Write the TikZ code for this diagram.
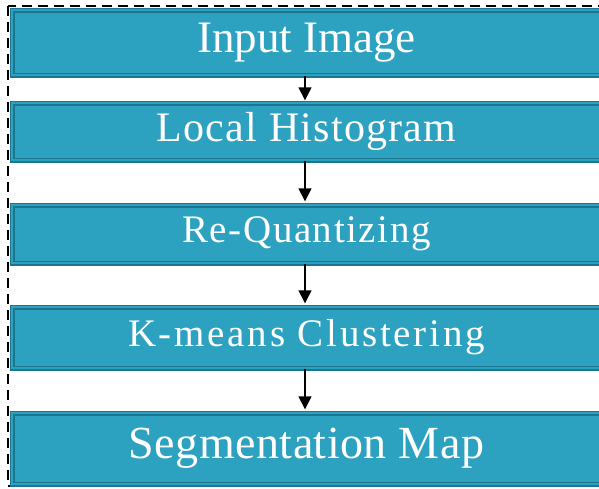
\documentclass[tikz,border=0pt]{standalone}
\usepackage{fontspec}
\setmainfont{Liberation Serif}
\usetikzlibrary{arrows.meta}

\definecolor{boxfill}{RGB}{45,161,192}
\definecolor{boxedge}{RGB}{29,118,143}

\tikzset{
  stagebox/.style={rectangle,draw=boxedge,line width=1.4pt,double=boxfill,double distance=2.2pt,
                   fill=boxfill,text=white,minimum width=589pt,inner sep=0pt},
  stagefont/.style 2 args={font={\fontsize{#1}{#1}\selectfont\addfontfeatures{LetterSpace=#2}}}
}

\begin{document}
\begin{tikzpicture}[x=1pt,y=-1pt]
\useasboundingbox (0,0) rectangle (599,488);
\clip (0,0) rectangle (599,488);
\draw[dash pattern=on 10pt off 6pt,line width=2.4pt] (8,6) rectangle (620,486);

\begin{scope}[every node/.style={stagebox}]
    \node[minimum height=65pt,stagefont={45}{0}] (input) at (306.5,42.5) {Input Image};
    \node[minimum height=57pt,stagefont={42}{3}] (hist) at (306.5,131.5) {Local Histogram};
    \node[minimum height=58pt,stagefont={39}{4}] (requant) at (306.5,234) {Re-Quantizing};
    \node[minimum height=61pt,stagefont={39}{7}] (kmeans) at (306.5,337.5) {K-means Clustering};
    \node[minimum height=71pt,stagefont={46}{1}] (segmap) at (306.5,448.5) {Segmentation Map};
\end{scope}

\begin{scope}[>={Triangle[black,width=13pt,length=13pt]},
              every edge/.style={draw=black,line width=1.4pt,shorten >=3pt}]
              \path [->] (input.south -| 305,0) edge ([yshift=-1pt]hist.north -| 305,0);
              \path [->] (hist.south -| 305,0) edge (requant.north -| 305,0);
              \path [->] (requant.south -| 305,0) edge (kmeans.north -| 305,0);
              \path [->] (kmeans.south -| 305,0) edge (segmap.north -| 305,0);
\end{scope}
\end{tikzpicture}
\end{document}
